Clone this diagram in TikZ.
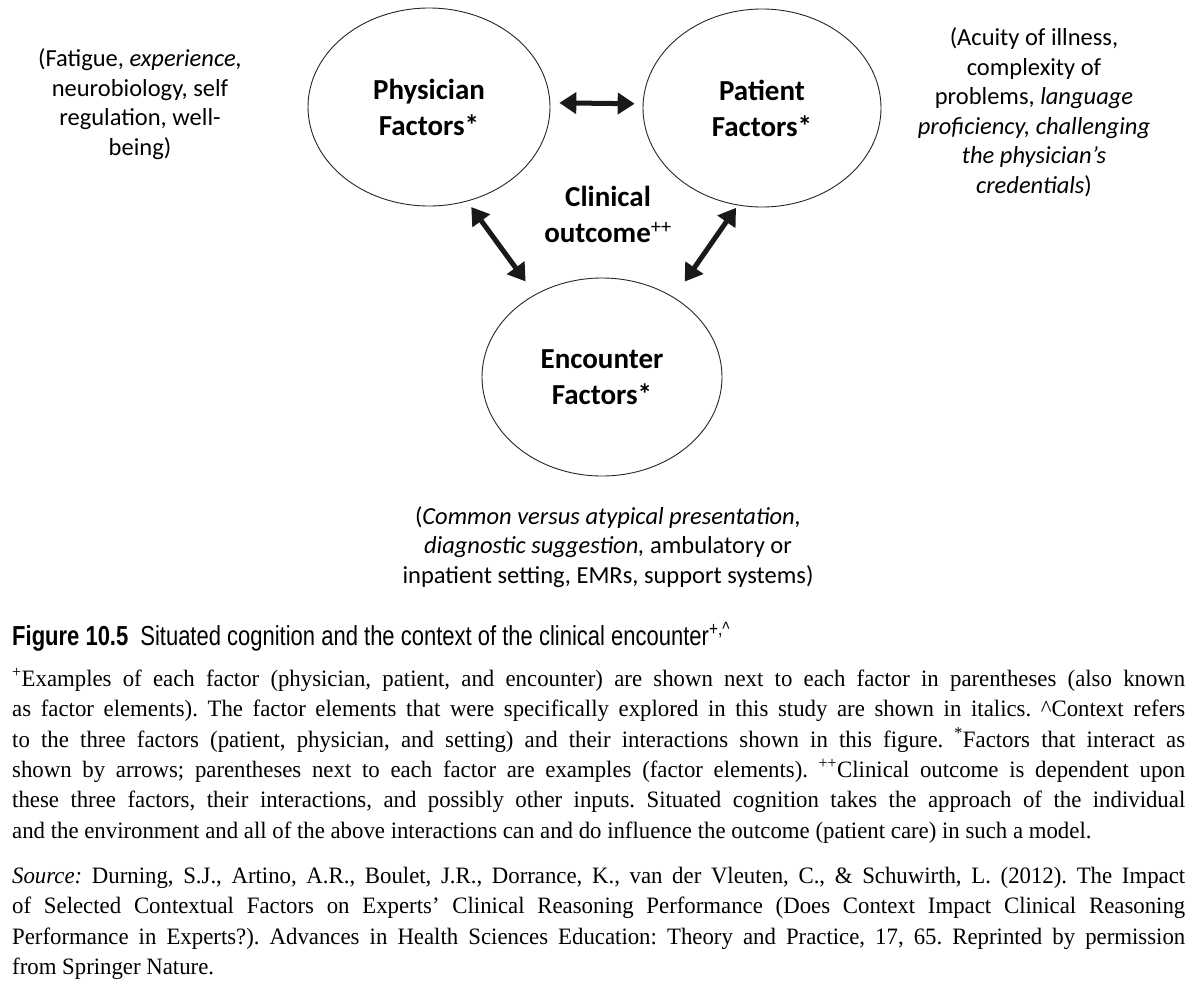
\documentclass[tikz,border=0pt]{standalone}
\usepackage{fontspec}
\usetikzlibrary{shapes.geometric,arrows.meta}
\newfontfamily\diagfont{Carlito}
\newfontfamily\capfont[FakeStretch=0.8]{Liberation Sans}
\newfontfamily\bodyfont[FakeStretch=0.97]{Liberation Serif}
\begin{document}
\begin{tikzpicture}[x=1pt,y=-1pt,
  factor/.style={ellipse, draw=black!85, line width=0.9pt, minimum width=242pt, minimum height=198pt, inner sep=0pt, align=center, font=\diagfont\bfseries\fontsize{29}{36}\selectfont},
  note/.style={align=center, inner sep=0pt, font=\diagfont\fontsize{24.5}{29.5}\selectfont},
  link/.style={line width=5pt, {Triangle[width=21pt,length=17pt]}-{Triangle[width=21pt,length=17pt]}, black!90},
  para/.style={anchor=north west, inner sep=0pt, text width=1173pt, align=justify, font=\bodyfont\fontsize{23.5}{30.3}\selectfont}
]
\useasboundingbox[fill=white] (0,0) rectangle (1204,986);

\node[factor] (phys) at (429,107) {Physician\\Factors*};
\node[factor, minimum width=238pt] (pat) at (762,108) {Patient\\Factors*};
\node[factor, minimum width=240pt] (enc) at (602,377) {Encounter\\Factors*};

\node[align=center, inner sep=0pt, font=\diagfont\bfseries\fontsize{29}{36}\selectfont] (out) at (608,214) {Clinical\\outcome\textsuperscript{\mdseries ++}};

\draw[link, shorten <=9pt, shorten >=8pt] (phys.2) -- (pat.178);
\draw[link, shorten <=7pt, shorten >=16pt] (phys.-68) -- (enc.129);
\draw[link, shorten <=3pt, shorten >=19pt] (pat.256) -- (enc.48);

\node[note] (physnote) at (140,104) {(Fatigue, \textit{experience,}\\neurobiology, self\\regulation, well-\\being)};
\node[note] (patnote) at (1034,112) {(Acuity of illness,\\complexity of\\problems, \textit{language}\\\textit{proficiency, challenging}\\\textit{the physician’s}\\\textit{credentials})};
\node[note] (encnote) at (608,547) {(\textit{Common versus atypical presentation,}\\\textit{diagnostic suggestion,} ambulatory or\\inpatient setting, EMRs, support systems)};

\node[anchor=base west, inner sep=0pt, font=\capfont\fontsize{27.5}{30}\selectfont] (cap) at (12,645) {\textbf{Figure 10.5}\hspace{12pt}Situated cognition and the context of the clinical encounter\textsuperscript{+,\textasciicircum}};

\node[para] (notes) at (12,668) {\parindent=0pt\hyphenpenalty=10000\frenchspacing
\textsuperscript{+}Examples of each factor (physician, patient, and encounter) are shown next to each factor in parentheses (also known\linebreak
as factor elements). The factor elements that were specifically explored in this study are shown in italics. \textasciicircum Context refers\linebreak
to the three factors (patient, physician, and setting) and their interactions shown in this figure. \textsuperscript{*}Factors that interact as\linebreak
shown by arrows; parentheses next to each factor are examples (factor elements). \textsuperscript{++}Clinical outcome is dependent upon\linebreak
these three factors, their interactions, and possibly other inputs. Situated cognition takes the approach of the individual\linebreak
and the environment and all of the above interactions can and do influence the outcome (patient care) in such a model.};

\node[para] (source) at (12,867) {\parindent=0pt\hyphenpenalty=10000\frenchspacing
\textit{Source:} Durning, S.J., Artino, A.R., Boulet, J.R., Dorrance, K., van der Vleuten, C., \& Schuwirth, L. (2012). The Impact\linebreak
of Selected Contextual Factors on Experts’ Clinical Reasoning Performance (Does Context Impact Clinical Reasoning\linebreak
Performance in Experts?). Advances in Health Sciences Education: Theory and Practice, 17, 65. Reprinted by permission\linebreak
from Springer Nature.};
\end{tikzpicture}
\end{document}
